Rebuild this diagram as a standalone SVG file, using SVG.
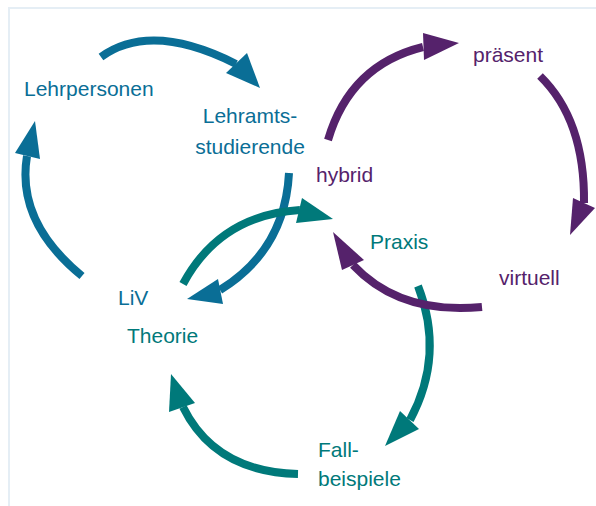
<svg xmlns="http://www.w3.org/2000/svg" width="596" height="506" viewBox="0 0 596 506">
<style>
text{font-family:"Liberation Sans","Noto Sans",Arial,sans-serif;font-size:21px}
.b{fill:#0a6e96}.t{fill:#00797a}.p{fill:#55226b}
.sb,.st,.sp{fill:none;stroke-width:8}
.sb{stroke:#0a6e96}.st{stroke:#00797a}.sp{stroke:#55226b}
</style>
<rect width="596" height="506" fill="#fff"/>
<path d="M9,506 V8 H596" fill="none" stroke="#e5eef5" stroke-width="2"/>
<g id="connectors">
<path class="sb" d="M101,57 Q151,21 236,64"/>
<polygon class="b" points="260,88 226,73 247,53"/>
<path class="sb" d="M82,276 Q16,222 27,156"/>
<polygon class="b" points="35,121 15,153 40,159"/>
<path class="sb" d="M289,173 Q285,250 220,290"/>
<polygon class="b" points="187,299 218,279 223,304"/>
<path class="st" d="M183,284 Q220,215 300,210"/>
<polygon class="t" points="333,219 302,198 296,223"/>
<path class="st" d="M418,286 Q445,355 410,420"/>
<polygon class="t" points="385,446 400,411 419,429"/>
<path class="st" d="M298,474 Q215,472 183,407"/>
<polygon class="t" points="171,374 169,412 195,403"/>
<path class="sp" d="M328,140 Q350,65 423,47"/>
<polygon class="p" points="459,43 423,33 424,60"/>
<path class="sp" d="M540,76 Q585,120 584,203"/>
<polygon class="p" points="570,235 573,198 595,208"/>
<path class="sp" d="M482,307 Q400,315 353,265"/>
<polygon class="p" points="333,232 342,270 364,260"/>
</g>
<g id="lehrpersonen"><text class="b" x="24" y="96">Lehrpersonen</text></g>
<g id="lehramtsstudierende"><text class="b" x="250" y="123" text-anchor="middle">Lehramts-</text><text class="b" x="250" y="154" text-anchor="middle">studierende</text></g>
<g id="liv"><text class="b" x="118" y="305">LiV</text></g>
<g id="theorie"><text class="t" x="127" y="343">Theorie</text></g>
<g id="praxis"><text class="t" x="370" y="249">Praxis</text></g>
<g id="fallbeispiele"><text class="t" x="318" y="457">Fall-</text><text class="t" x="318" y="486">beispiele</text></g>
<g id="hybrid"><text class="p" x="316" y="182">hybrid</text></g>
<g id="praesent"><text class="p" x="473" y="62">präsent</text></g>
<g id="virtuell"><text class="p" x="499" y="285">virtuell</text></g>
</svg>
